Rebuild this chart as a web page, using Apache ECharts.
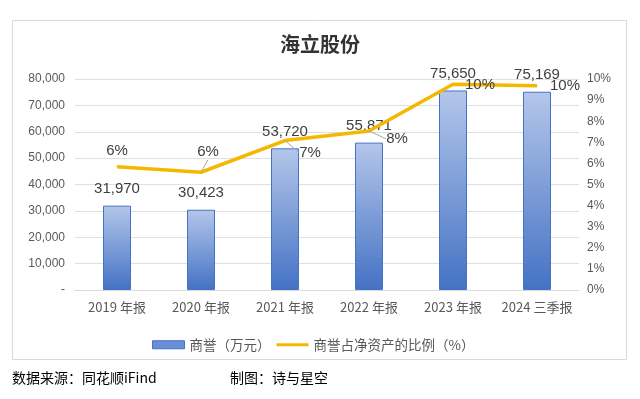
<!DOCTYPE html>
<html><head><meta charset="utf-8">
<script src="https://cdn.jsdelivr.net/npm/echarts@6/dist/echarts.min.js"></script>
<style>html,body{margin:0;padding:0;background:#fff}#c{width:640px;height:399px}</style>
</head><body><div id="c"></div>
<script>
var categories = ['2019 年报','2020 年报','2021 年报','2022 年报','2023 年报','2024 三季报'];
var goodwill = [31970, 30423, 53720, 55871, 75650, 75169];
var ratio = [5.84, 5.58, 7.08, 7.54, 9.75, 9.68];
var leftTicks = [0, 10000, 20000, 30000, 40000, 50000, 60000, 70000, 80000];
var rightTicks = [0,1,2,3,4,5,6,7,8,9,10];
var labelShift = [[0,0],[7,-4],[25,28],[28,24],[27,17],[28,16]];
var showLeader = [false, true, true, true, false, false];

var chart = echarts.init(document.getElementById('c'), null, {renderer:'canvas'});
var font = '"Noto Sans CJK SC", "Noto Sans", sans-serif';
var numFont = '"Liberation Sans", sans-serif';
chart.setOption({
  animation:false,
  textStyle:{fontFamily:font},
  graphic:[
    {type:'rect', shape:{x:12.5,y:20.5,width:614,height:339}, style:{fill:'none', stroke:'#d9d9d9', lineWidth:1}, z:-1},
    {type:'text', left:12, top:371, style:{text:'数据来源：同花顺iFind', fill:'#000', font:'14px "Noto Sans CJK SC"'}},
    {type:'text', left:230, top:371, style:{text:'制图：诗与星空', fill:'#000', font:'14px "Noto Sans CJK SC"'}}
  ],
  title:{text:'海立股份', left:'center', top:29, textStyle:{fontSize:20, fontWeight:'bold', color:'#333', fontFamily:font}},
  legend:{
    left:147, top:333, itemGap:6,
    textStyle:{fontSize:13.5, color:'#595959', fontFamily:font},
    data:[
      {name:'商誉（万元）', icon:'rect', itemStyle:{color:'#6b8fd6', borderColor:'#4472c4', borderWidth:1}},
      {name:'商誉占净资产的比例（%）', icon:'path://M0,0 H33 V3 H0 Z', itemStyle:{color:'#f5b800', borderWidth:0}}
    ],
    itemWidth:32, itemHeight:8
  },
  grid:{left:75, right:61, top:79, bottom:109},
  xAxis:{
    type:'category', data:categories,
    axisLine:{lineStyle:{color:'#d9d9d9', width:1}},
    axisTick:{show:false},
    axisLabel:{color:'#595959', fontSize:13, margin:11, interval:0, fontFamily:font}
  },
  yAxis:[
    {type:'value', min:leftTicks[0], max:leftTicks[leftTicks.length-1], interval:10000,
     axisLine:{show:false}, axisTick:{show:false},
     splitLine:{lineStyle:{color:'#e0e0e0'}},
     axisLabel:{color:'#595959', fontSize:12, margin:10, fontFamily:numFont,
       formatter:function(v){return v===0?'-':v.toLocaleString('en-US');}}},
    {type:'value', min:rightTicks[0], max:rightTicks[rightTicks.length-1], interval:1,
     axisLine:{show:false}, axisTick:{show:false}, splitLine:{show:false},
     axisLabel:{color:'#595959', fontSize:12, margin:8, fontFamily:numFont,
       formatter:'{value}%'}}
  ],
  series:[
    {name:'商誉（万元）', type:'bar', data:goodwill, barWidth:28, yAxisIndex:0,
     itemStyle:{color:new echarts.graphic.LinearGradient(0,0,0,1,[{offset:0,color:'#b4c6ea'},{offset:1,color:'#4472c4'}]),
       borderColor:'#4472c4', borderWidth:1},
     label:{show:true, position:'top', distance:9, color:'#404040', fontSize:15, fontFamily:numFont,
       formatter:function(p){return p.value.toLocaleString('en-US');}}
    },
    {name:'商誉占净资产的比例（%）', type:'line', yAxisIndex:1,
     data: ratio.map(function(v,i){return {value:v, labelLine:{show:showLeader[i]}};}),
     symbol:'circle', symbolSize:1, showSymbol:true,
     lineStyle:{color:'#f5b800', width:3.5}, itemStyle:{color:'#f5b800'},
     z:5,
     label:{show:true, color:'#404040', fontSize:15, fontFamily:numFont,
       formatter:function(p){return Math.round(p.value)+'%';},
       position:'top', distance:8},
     labelLine:{show:true, lineStyle:{color:'#a6a6a6', width:1}},
     labelLayout:function(p){
       var s = labelShift[p.dataIndex];
       return {dx:s[0], dy:s[1]};
     }
    }
  ]
});
</script></body></html>
